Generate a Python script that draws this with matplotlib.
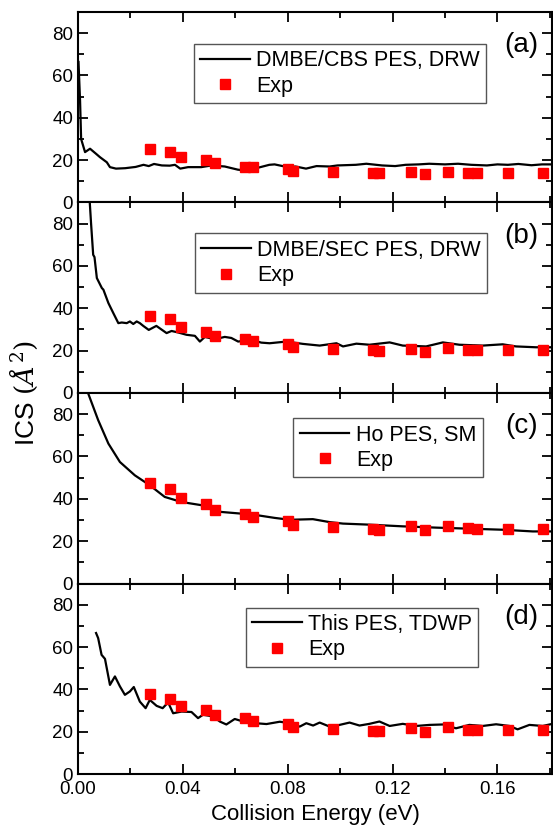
import numpy as np
import matplotlib
matplotlib.use('Agg')
import matplotlib.pyplot as plt
from matplotlib.ticker import MultipleLocator

plt.rcParams['font.family'] = ['Liberation Sans', 'DejaVu Sans']
plt.rcParams['mathtext.fontset'] = 'dejavuserif'

# experimental points (same energies in every panel)
exp_e = [0.0274, 0.0350, 0.0392, 0.0488, 0.0522, 0.0636, 0.0667, 0.0800, 0.0819,
         0.0971, 0.1124, 0.1150, 0.1269, 0.1322, 0.1410, 0.1486, 0.1524, 0.1642, 0.1775]
exp_a = [25.1, 23.7, 21.3, 19.9, 18.5, 17.0, 16.6, 15.6, 14.7, 14.2, 13.7, 13.7,
         14.2, 13.3, 14.2, 13.7, 13.7, 13.7, 13.7]
exp_b = [36.6, 34.9, 31.2, 28.9, 27.1, 25.7, 24.5, 23.1, 21.8, 20.8, 20.2, 19.9,
         21.0, 19.6, 21.3, 20.5, 20.2, 20.2, 20.2]
exp_c = [47.3, 44.6, 40.6, 37.4, 34.9, 33.0, 31.4, 29.5, 27.8, 26.7, 25.7, 25.4,
         27.0, 25.1, 27.1, 26.0, 25.7, 25.7, 25.7]
exp_d = [38.0, 35.6, 32.3, 30.2, 28.1, 26.4, 25.2, 23.5, 22.2, 21.3, 20.4, 20.4,
         21.8, 20.0, 22.1, 21.0, 20.8, 20.7, 20.7]

# (a) DMBE/CBS PES, DRW
line_a_e = [0.0002, 0.0008, 0.0012, 0.0027, 0.0046, 0.0069, 0.0084, 0.011, 0.0122,
            0.0145, 0.018, 0.022, 0.025, 0.027, 0.029, 0.032, 0.035, 0.037, 0.039,
            0.042, 0.047, 0.051, 0.056, 0.061, 0.064, 0.068, 0.073, 0.075, 0.080,
            0.083, 0.087, 0.091, 0.096, 0.099, 0.106, 0.110, 0.116, 0.121, 0.125,
            0.130, 0.134, 0.140, 0.145, 0.150, 0.156, 0.160, 0.164, 0.168, 0.173,
            0.177, 0.181]
line_a_v = [66.4, 48.0, 30.0, 23.8, 25.4, 23.0, 21.4, 19.0, 16.7,
            16.0, 16.2, 16.8, 17.8, 17.2, 18.2, 17.5, 17.4, 17.8, 16.0,
            16.7, 16.7, 17.5, 17.0, 15.5, 15.1, 16.2, 17.8, 18.0, 16.7,
            17.0, 16.0, 17.2, 17.0, 17.5, 17.8, 18.3, 17.5, 17.2, 17.8,
            18.0, 18.3, 18.0, 18.3, 17.8, 17.5, 18.0, 17.8, 18.2, 17.6,
            18.0, 18.0]

# (b) DMBE/SEC PES, DRW
line_b_e = [0.0040, 0.0050, 0.0058, 0.0063, 0.0072, 0.0091, 0.0097, 0.0116, 0.0135,
            0.0154, 0.0167, 0.0186, 0.0198, 0.0211, 0.0224, 0.0236, 0.0249, 0.0270,
            0.0299, 0.0338, 0.0357, 0.0382, 0.0414, 0.0446, 0.0465, 0.0484, 0.0522,
            0.0560, 0.0585, 0.0611, 0.0661, 0.0699, 0.0731, 0.0795, 0.0858, 0.0922,
            0.0986, 0.1011, 0.1062, 0.1112, 0.1189, 0.1239, 0.1328, 0.1392, 0.1455,
            0.1544, 0.1620, 0.1671, 0.1747, 0.181]
line_b_v = [100.0, 80.0, 65.3, 64.2, 54.3, 49.6, 48.8, 42.5, 37.7,
            33.0, 33.3, 33.0, 33.8, 32.6, 33.8, 33.0, 31.7, 29.8,
            31.7, 28.3, 29.3, 28.6, 27.5, 27.0, 24.3, 26.5, 25.4,
            26.5, 26.0, 24.3, 25.2, 23.8, 23.5, 24.3, 23.2, 22.4,
            23.5, 22.0, 23.3, 22.8, 23.9, 22.4, 22.0, 23.9, 22.8,
            22.4, 23.0, 22.0, 21.6, 21.6]

# (c) Ho PES, SM
line_c_e = [0.0030, 0.0039, 0.0077, 0.0116, 0.0160, 0.0217, 0.0274, 0.0331, 0.0395,
            0.0471, 0.0547, 0.0624, 0.0687, 0.0750, 0.0808, 0.0896, 0.0960, 0.1011,
            0.1112, 0.1239, 0.1366, 0.1493, 0.1620, 0.1735, 0.181]
line_c_v = [95.0, 89.8, 77.2, 66.1, 57.4, 51.1, 46.4, 40.9, 38.5,
            37.0, 33.8, 33.0, 32.2, 31.0, 30.1, 30.4, 29.0, 28.3,
            27.8, 27.0, 26.4, 25.9, 25.4, 24.6, 24.6]

# (d) This PES, TDWP
line_d_e = [0.0069, 0.0077, 0.0090, 0.0103, 0.0122, 0.0141, 0.0160, 0.0179, 0.0198,
            0.0213, 0.0236, 0.0258, 0.0274, 0.0300, 0.0323, 0.0344, 0.0363, 0.0395,
            0.0433, 0.0458, 0.0477, 0.0516, 0.0541, 0.0566, 0.0598, 0.0630, 0.0668,
            0.0719, 0.0770, 0.0808, 0.0846, 0.0871, 0.0897, 0.0922, 0.0960, 0.0998,
            0.1036, 0.1074, 0.1112, 0.1150, 0.1189, 0.1239, 0.1290, 0.1341, 0.1392,
            0.1442, 0.1493, 0.1544, 0.1595, 0.1646, 0.1677, 0.1722, 0.1773, 0.181]
line_d_v = [66.6, 64.2, 56.3, 54.4, 42.1, 46.1, 41.4, 37.4, 39.0,
            41.1, 34.2, 31.1, 35.0, 32.2, 31.1, 33.8, 28.7, 29.5,
            29.3, 26.4, 28.0, 27.2, 24.8, 23.4, 26.0, 24.8, 24.1,
            23.6, 24.7, 24.0, 22.4, 24.0, 22.9, 24.3, 22.4, 23.2,
            24.3, 22.9, 23.7, 24.8, 22.7, 23.7, 22.7, 23.2, 23.4,
            21.6, 23.2, 22.7, 23.5, 22.7, 21.1, 23.2, 22.7, 23.7]

panels = [
    (line_a_e, line_a_v, exp_a, 'DMBE/CBS PES, DRW', '(a)', (0.861, 0.832)),
    (line_b_e, line_b_v, exp_b, 'DMBE/SEC PES, DRW', '(b)', (0.863, 0.838)),
    (line_c_e, line_c_v, exp_c, 'Ho PES, SM', '(c)', (0.853, 0.868)),
    (line_d_e, line_d_v, exp_d, 'This PES, TDWP', '(d)', (0.844, 0.874)),
]

fig, axes = plt.subplots(4, 1, sharex=True, figsize=(5.53, 8.32), dpi=100)
fig.subplots_adjust(left=0.141, right=0.999, top=0.9856, bottom=0.0697, hspace=0)

for ax, (le, lv, ev, name, tag, anchor) in zip(axes, panels):
    ax.plot(le, lv, color='black', lw=1.6, label=name)
    ax.plot(exp_e, ev, 's', color='red', ms=7, mec='red', label='Exp')
    ax.set_xlim(0, 0.181)
    ax.set_ylim(0, 90)
    ax.yaxis.set_major_locator(MultipleLocator(20))
    ax.yaxis.set_minor_locator(MultipleLocator(10))
    ax.xaxis.set_major_locator(MultipleLocator(0.04))
    ax.xaxis.set_minor_locator(MultipleLocator(0.02))
    ax.tick_params(which='both', direction='in', top=True, right=True,
                   labelsize=13.5, width=1.3)
    ax.tick_params(which='major', length=7)
    ax.tick_params(which='minor', length=4)
    for s in ax.spines.values():
        s.set_linewidth(1.5)
    leg = ax.legend(loc='upper right', bbox_to_anchor=anchor, borderaxespad=0,
                    fontsize=15.5, fancybox=False, edgecolor='#555555',
                    handlelength=2.3, handletextpad=0.3, framealpha=1,
                    borderpad=0.3, labelspacing=0.2)
    leg.get_frame().set_linewidth(1.0)
    ax.text(0.935, 0.825, tag, transform=ax.transAxes, fontsize=20,
            ha='center', va='center')

axes[-1].xaxis.set_major_formatter(matplotlib.ticker.FormatStrFormatter('%.2f'))
axes[-1].tick_params(axis='x', pad=5)
axes[-1].set_xlabel('Collision Energy (eV)', fontsize=16, labelpad=4)
fig.text(0.043, 0.528, r'ICS $(\AA^{2})$', rotation=90, fontsize=19,
         ha='center', va='center')

fig.savefig('out.png', dpi=100)
